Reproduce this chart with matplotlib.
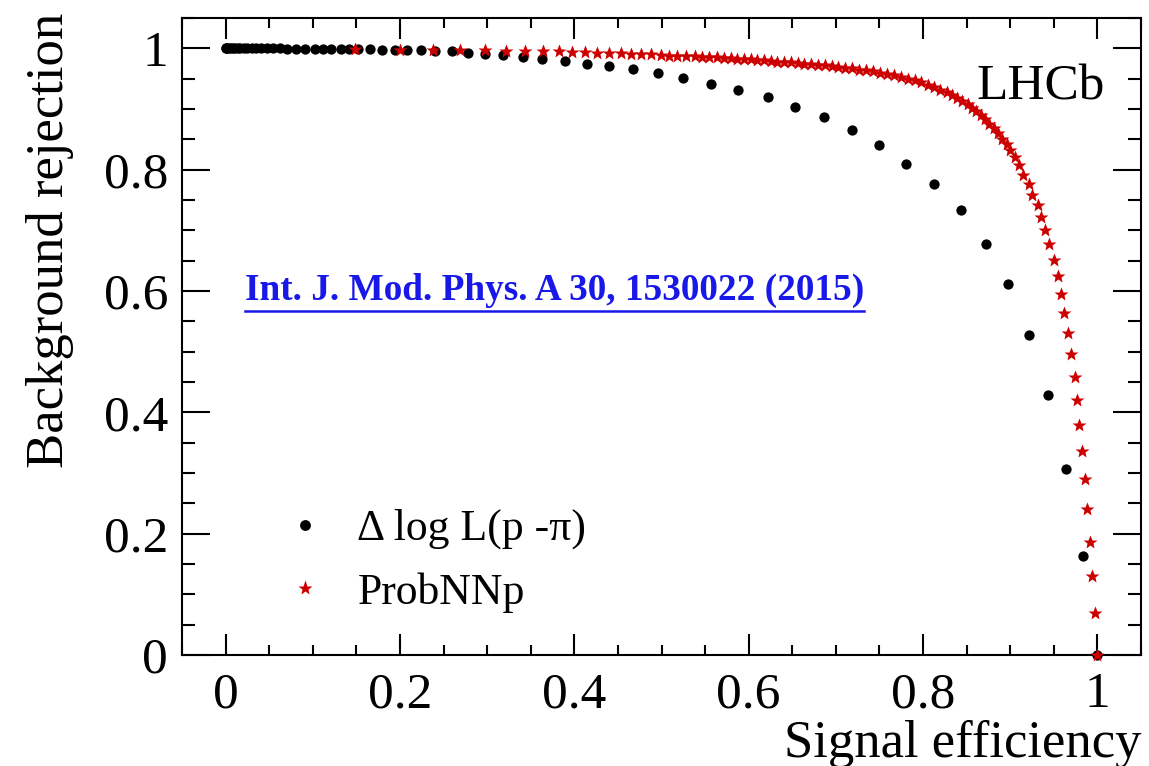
import matplotlib
matplotlib.use("Agg")
import matplotlib.pyplot as plt
from matplotlib.ticker import MultipleLocator, FuncFormatter
from matplotlib.lines import Line2D

plt.rcParams['font.family'] = ['Liberation Serif', 'DejaVu Serif']

# Delta log L(p - pi): signal efficiency vs background rejection
dll_eff = [0.000, 0.001, 0.002, 0.004, 0.006, 0.008, 0.011, 0.014, 0.017, 0.021,
           0.025, 0.030, 0.035, 0.041, 0.047, 0.054, 0.062, 0.071, 0.081, 0.091,
           0.102, 0.112, 0.121, 0.132, 0.142, 0.152, 0.166, 0.179, 0.194, 0.208,
           0.224, 0.240, 0.260, 0.278, 0.298, 0.318, 0.341, 0.363, 0.389, 0.414,
           0.440, 0.467, 0.496, 0.525, 0.557, 0.588, 0.622, 0.653, 0.686, 0.719,
           0.750, 0.781, 0.813, 0.844, 0.872, 0.898, 0.921, 0.943, 0.964, 0.984,
           1.000]
dll_rej = [1.000, 1.000, 1.000, 1.000, 1.000, 1.000, 1.000, 1.000, 1.000, 1.000,
           1.000, 1.000, 1.000, 1.000, 1.000, 1.000, 1.000, 0.999, 0.999, 0.999,
           0.999, 0.999, 0.999, 0.999, 0.999, 0.999, 0.999, 0.998, 0.998, 0.998,
           0.997, 0.996, 0.995, 0.993, 0.991, 0.989, 0.986, 0.983, 0.979, 0.975,
           0.971, 0.966, 0.959, 0.951, 0.942, 0.932, 0.919, 0.904, 0.887, 0.866,
           0.840, 0.810, 0.776, 0.733, 0.678, 0.611, 0.528, 0.428, 0.307, 0.164,
           0.000]

# ProbNNp: signal efficiency vs background rejection
nn_eff = [0.149, 0.200, 0.238, 0.269, 0.297, 0.322, 0.344, 0.364, 0.382, 0.397,
          0.412, 0.426, 0.440, 0.453, 0.465, 0.477, 0.488, 0.499, 0.509, 0.518,
          0.528, 0.538, 0.546, 0.555, 0.564, 0.572, 0.580, 0.587, 0.595, 0.603,
          0.610, 0.618, 0.626, 0.633, 0.641, 0.649, 0.657, 0.664, 0.672, 0.680,
          0.688, 0.695, 0.703, 0.711, 0.719, 0.727, 0.735, 0.743, 0.751, 0.759,
          0.767, 0.775, 0.783, 0.791, 0.798, 0.806, 0.813, 0.820, 0.827, 0.833,
          0.839, 0.845, 0.851, 0.856, 0.861, 0.866, 0.871, 0.876, 0.881, 0.886,
          0.891, 0.896, 0.900, 0.905, 0.910, 0.915, 0.921, 0.925, 0.932, 0.935,
          0.940, 0.945, 0.950, 0.955, 0.958, 0.962, 0.966, 0.970, 0.974, 0.977,
          0.979, 0.982, 0.986, 0.988, 0.991, 0.994, 0.997, 1.000]
nn_rej = [0.999, 0.998, 0.998, 0.997, 0.997, 0.996, 0.996, 0.995, 0.995, 0.994,
          0.994, 0.993, 0.993, 0.992, 0.991, 0.991, 0.990, 0.989, 0.988, 0.988,
          0.987, 0.987, 0.986, 0.986, 0.985, 0.984, 0.984, 0.983, 0.982, 0.982,
          0.981, 0.980, 0.979, 0.978, 0.978, 0.977, 0.976, 0.975, 0.974, 0.973,
          0.972, 0.971, 0.969, 0.968, 0.967, 0.965, 0.964, 0.962, 0.960, 0.958,
          0.956, 0.953, 0.950, 0.947, 0.944, 0.940, 0.936, 0.932, 0.928, 0.923,
          0.918, 0.913, 0.908, 0.902, 0.896, 0.890, 0.883, 0.876, 0.868, 0.860,
          0.851, 0.842, 0.832, 0.821, 0.807, 0.792, 0.777, 0.759, 0.741, 0.722,
          0.700, 0.677, 0.651, 0.624, 0.595, 0.564, 0.531, 0.496, 0.458, 0.420,
          0.379, 0.336, 0.290, 0.241, 0.187, 0.130, 0.070, 0.000]

labels = ["\u0394 log L(p -\u03c0)", "ProbNNp"]
ref_text = "Int. J. Mod. Phys. A 30, 1530022 (2015)"

W, H = 1149, 766
fig = plt.figure(figsize=(W / 100, H / 100), dpi=100)
ax = fig.add_axes([182 / W, 1 - 655 / H, (1141 - 182) / W, (655 - 18) / H])

red = '#cc0000'
dots, = ax.plot(dll_eff, dll_rej, ls='none', marker='o', ms=7.4, mec='none',
                color='black', clip_on=False, zorder=3)
stars, = ax.plot(nn_eff, nn_rej, ls='none', marker='*', ms=10.5, mec='none',
                 color=red, clip_on=False, zorder=4)

ax.set_xlim(-0.05, 1.05)
ax.set_ylim(0, 1.05)

fmt = FuncFormatter(lambda v, p: f"{v:g}")
ax.xaxis.set_major_locator(MultipleLocator(0.2))
ax.xaxis.set_minor_locator(MultipleLocator(0.05))
ax.yaxis.set_major_locator(MultipleLocator(0.2))
ax.yaxis.set_minor_locator(MultipleLocator(0.05))
ax.xaxis.set_major_formatter(fmt)
ax.yaxis.set_major_formatter(fmt)

for s in ax.spines.values():
    s.set_linewidth(1.5)
ax.tick_params(which='both', direction='in', top=True, right=True, width=1.5,
               labelsize=37, colors='black')
ax.tick_params(axis='x', which='major', length=15, pad=12)
ax.tick_params(axis='x', which='minor', length=7)
ax.tick_params(axis='y', which='major', length=20, pad=10)
ax.tick_params(axis='y', which='minor', length=9.5)

fig.text(50 / W, 1 - 13 / H, "Background rejection", rotation=90,
         ha='center', va='top', fontsize=38)
fig.text(1141 / W, 1 - 757 / H, "Signal efficiency", ha='right',
         va='baseline', fontsize=38)
fig.text(1105 / W, 1 - 99 / H, "LHCb", ha='right', va='baseline', fontsize=37)

link = fig.text(245 / W, 1 - 300 / H, ref_text, ha='left', va='baseline',
                fontsize=26.8, fontweight='bold', color='#1818e8')

leg = ax.legend([dots, stars], labels, loc='upper left',
                bbox_to_anchor=(283 / W, 1 - 509 / H),
                bbox_transform=fig.transFigure, frameon=False,
                fontsize=31.5, handlelength=1.0, handletextpad=0.7,
                borderpad=0, borderaxespad=0, labelspacing=0.52,
                numpoints=1, markerscale=1.0)
for h in leg.legend_handles:
    if h.get_marker() == '*':
        h.set_markersize(11)
    else:
        h.set_markersize(7.8)

# underline for the reference text
fig.canvas.draw()
bb = link.get_window_extent(fig.canvas.get_renderer())
fy = (bb.y0 - 3) / H
fig.add_artist(Line2D([bb.x0 / W, bb.x1 / W], [fy, fy], color='#1818e8',
                      lw=1.8, transform=fig.transFigure))

fig.savefig("out.png", dpi=100)
